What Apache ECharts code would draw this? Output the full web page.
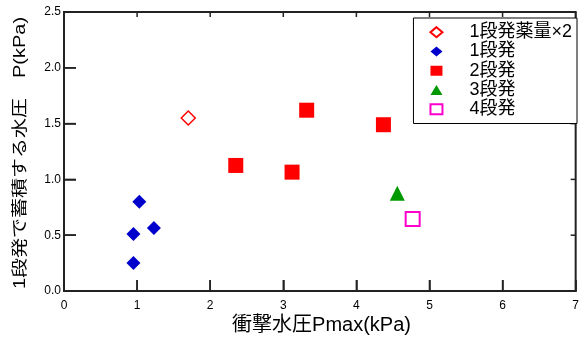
<!DOCTYPE html>
<html>
<head>
<meta charset="utf-8">
<script src="https://cdn.jsdelivr.net/npm/echarts@6/dist/echarts.min.js"></script>
<style>
html,body{margin:0;padding:0;background:#fff;}
#c{width:582px;height:338px;}
</style>
</head>
<body>
<div id="c"></div>
<script>
// ---- data ----
const seriesNames = ['1段発薬量×2', '1段発', '2段発', '3段発', '4段発'];
const xDouble = [1.70];
const yDouble = [1.55];
const xOne = [1.03, 1.23, 0.95, 0.95];
const yOne = [0.80, 0.565, 0.51, 0.25];
const xTwo = [3.32, 4.37, 2.35, 3.12];
const yTwo = [1.62, 1.49, 1.125, 1.065];
const xThree = [4.56];
const yThree = [0.875];
const xFour = [4.77];
const yFour = [0.645];
const xTickValues = [0, 1, 2, 3, 4, 5, 6, 7];
const yTickValues = [0, 0.5, 1.0, 1.5, 2.0, 2.5];
const xAxisTitle = '衝撃水圧Pmax(kPa)';
const yAxisTitle = '1段発で蓄積する水圧　P(kPa)';

const FONT = "'Liberation Sans', 'Noto Sans CJK JP', sans-serif";
const X_MIN = 0, X_MAX = 7, Y_MIN = 0, Y_MAX = 2.5;
const pair = (xs, ys) => xs.map((x, i) => [x, ys[i]]);

// tick marks on all four sides, placed through the axes' own scales
const tickData = xTickValues.map(v => [v, 0]).concat(yTickValues.map(v => [v, 1]));
function renderTick(params, api) {
  const v = api.value(0);
  const kind = api.value(1);
  const st = {stroke: '#222', lineWidth: 1.5};
  if (kind === 0) {
    const b = api.coord([v, Y_MIN]);
    const t = api.coord([v, Y_MAX]);
    return {type: 'group', children: [
      {type: 'line', shape: {x1: b[0], y1: b[1], x2: b[0], y2: b[1] - 11}, style: st},
      {type: 'line', shape: {x1: t[0], y1: t[1], x2: t[0], y2: t[1] + 5}, style: st}
    ]};
  }
  const l = api.coord([X_MIN, v]);
  const r = api.coord([X_MAX, v]);
  return {type: 'group', children: [
    {type: 'line', shape: {x1: l[0], y1: l[1], x2: l[0] + 12, y2: l[1]}, style: st},
    {type: 'line', shape: {x1: r[0], y1: r[1], x2: r[0] - 5, y2: r[1]}, style: st}
  ]};
}

const chart = echarts.init(document.getElementById('c'));
chart.setOption({
  animation: false,
  grid: {left: 64, right: 3, top: 12, bottom: 47, show: true, borderColor: '#222', borderWidth: 2, backgroundColor: 'transparent'},
  graphic: [
    {type: 'text', x: 321.5, y: 325,
      style: {text: xAxisTitle, fontFamily: FONT, fontSize: 20, fill: '#000', align: 'center', verticalAlign: 'middle'}},
    {type: 'text', x: 21, y: 153, rotation: Math.PI / 2, scaleY: 0.8,
      style: {text: yAxisTitle, fontFamily: FONT, fontSize: 20, fill: '#000', align: 'center', verticalAlign: 'middle'}}
  ],
  xAxis: {
    type: 'value', min: X_MIN, max: X_MAX, interval: 1,
    axisLine: {show: true, lineStyle: {color: '#222', width: 2}},
    axisTick: {show: true, inside: true, length: 11, lineStyle: {color: '#222', width: 1.5}},
    axisLabel: {fontFamily: FONT, fontSize: 12, color: '#000', margin: 9},
    splitLine: {show: false}
  },
  yAxis: {
    type: 'value', min: Y_MIN, max: Y_MAX, interval: 0.5,
    axisLine: {show: true, lineStyle: {color: '#222', width: 2}},
    axisTick: {show: true, inside: true, length: 12, lineStyle: {color: '#222', width: 1.5}},
    axisLabel: {fontFamily: FONT, fontSize: 12, color: '#000', margin: 3,
      formatter: v => v.toFixed(1)},
    splitLine: {show: false}
  },
  legend: {
    orient: 'vertical', right: 5, top: 18,
    backgroundColor: '#fff', borderColor: '#000', borderWidth: 1,
    padding: [4.5, 5, 4.5, 16],
    itemWidth: 12, itemHeight: 10, itemGap: 0,
    textStyle: {fontFamily: FONT, fontSize: 18, color: '#000', lineHeight: 19.3, padding: [0, 0, 0, 22]},
    data: seriesNames
  },
  series: [
    {name: 'ticks', type: 'custom', silent: true, clip: false, z: 1,
      renderItem: renderTick, data: tickData},
    {name: seriesNames[0], type: 'scatter', symbol: 'diamond', symbolSize: 14,
      itemStyle: {color: '#fff', borderColor: '#ff0000', borderWidth: 1.5, opacity: 1},
      data: pair(xDouble, yDouble)},
    {name: seriesNames[1], type: 'scatter', symbol: 'diamond', symbolSize: 14,
      itemStyle: {color: '#0000cc', opacity: 1}, data: pair(xOne, yOne)},
    {name: seriesNames[2], type: 'scatter', symbol: 'rect', symbolSize: 15,
      itemStyle: {color: '#ff0000', opacity: 1}, data: pair(xTwo, yTwo)},
    {name: seriesNames[3], type: 'scatter', symbol: 'triangle', symbolSize: 15,
      itemStyle: {color: '#009900', opacity: 1}, data: pair(xThree, yThree)},
    {name: seriesNames[4], type: 'scatter', symbol: 'rect', symbolSize: 14,
      itemStyle: {color: '#fff', borderColor: '#ff00cc', borderWidth: 2, opacity: 1},
      data: pair(xFour, yFour)}
  ]
});
</script>
</body>
</html>
